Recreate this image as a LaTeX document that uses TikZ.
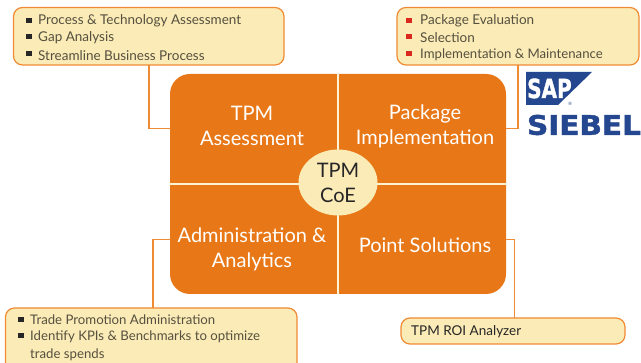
\documentclass[tikz,border=0pt]{standalone}
\usepackage{fontspec}
\usetikzlibrary{shapes.geometric}
\setmainfont{Lato}
\newfontfamily\logofont[FakeBold=1.5]{DejaVu Sans}
\newfontfamily\regfont{DejaVu Sans}
\definecolor{mainorange}{HTML}{E87817}
\definecolor{edgeorange}{HTML}{EF8B35}
\definecolor{cream}{HTML}{FBEBB7}
\definecolor{greytext}{HTML}{55503F}
\definecolor{logoblue}{HTML}{24478F}
\definecolor{bulletred}{HTML}{D9281E}
\tikzset{
  x=1pt,y=-1pt,
  infobox/.style={draw=edgeorange,line width=1.2pt,fill=cream,rounded corners=9pt},
  quad/.style={minimum width=167pt,minimum height=109pt,inner sep=0pt},
  bigtext/.style={text=white,font=\fontsize{20}{25}\selectfont,align=center,inner sep=0pt},
  item/.style={anchor=west,inner sep=0pt,text=greytext,font=\fontsize{13.5}{16}\selectfont},
  itemsmall/.style={item,font=\fontsize{13.2}{16}\selectfont},
  dot/.style={minimum size=5.2pt,inner sep=0pt,fill=#1},
  dot/.default=black!85,
  conn/.style={draw=edgeorange,line width=1.2pt},
}
\begin{document}
\begin{tikzpicture}
\useasboundingbox (0,0) rectangle (641,363);
\clip (0,0) rectangle (641,363);
\fill[white] (0,0) rectangle (641,363);

% core block
\fill[mainorange,rounded corners=20pt] (170,74) rectangle (506,294);
\node[quad] (qa) at (253.5,128.5) {};
\node[quad] (qb) at (422.5,128.5) {};
\node[quad] (qc) at (253.5,239.5) {};
\node[quad] (qd) at (422.5,239.5) {};
\draw[cream!60!white,line width=1.6pt] (338,74) -- (338,294);
\draw[cream!60!white,line width=1.6pt] (170,184) -- (506,184);
\node[bigtext] (ta) at (252,126) {TPM\\Assessment};
\node[bigtext] (tb) at (425,126.5) {Package\\Implementation};
\node[bigtext] (tc) at (252,249.5) {Administration \&\\Analytics};
\node[bigtext] (td) at (425,245.5) {Point Solutions};
\node[ellipse,fill=cream,minimum width=79pt,minimum height=66pt,inner sep=0pt,font=\fontsize{20}{25}\selectfont,text=black!85,align=center] (coe) at (338,182.5) {TPM\\CoE};

% info boxes
\draw[infobox] (13.5,7.5) rectangle (284,65);
\draw[infobox] (397,7.5) rectangle (639,65);
\draw[infobox] (5.5,308) rectangle (297,375);
\draw[infobox] (401,318) rectangle (625,344);

\coordinate (ca) at (149,65);
\coordinate (cb) at (518,65);
\coordinate (cc) at (153,308);
\coordinate (cd) at (514.5,318);
\draw[conn] (qa.west) -| (ca);
\draw[conn] (qb.east) -| (cb);
\draw[conn] (qc.west) -| (cc);
\draw[conn] (qd.east) -| (cd);

% top left
\node[dot] (d1) at (29,20.5) {};
\node[dot] (d2) at (29,36.5) {};
\node[dot] (d3) at (29,53.5) {};
\node[item] (i1) at (38,21) {Process \& Technology Assessment};
\node[item] (i2) at (38,38) {Gap Analysis};
\node[item] (i3) at (38,56) {Streamline Business Process};
% top right
\node[dot=bulletred] (d4) at (409,20.5) {};
\node[dot=bulletred] (d5) at (409,36.5) {};
\node[dot=bulletred] (d6) at (409,53.5) {};
\node[item] (i4) at (420,21) {Package Evaluation};
\node[item] (i5) at (420,38) {Selection};
\node[itemsmall] (i6) at (420,55) {Implementation \& Maintenance};
% bottom left
\node[dot] (d7) at (21,319.5) {};
\node[dot] (d8) at (21,335.5) {};
\node[itemsmall] (i7) at (30,320) {Trade Promotion Administration};
\node[itemsmall] (i8) at (30,337) {Identify KPIs \& Benchmarks to optimize};
\node[itemsmall] (i9) at (30,355) {trade spends};
% bottom right
\node[item,text=black!85] (i10) at (411,332) {TPM ROI Analyzer};

% logos
\fill[logoblue] (526,72) -- (592,72) -- (558,105) -- (526,105) -- cycle;
\node[inner sep=0pt,text=white,font=\logofont\bfseries\fontsize{25}{25}\selectfont,anchor=base west] (sap) at (527,98) {\scalebox{0.8}[1.05]{SAP}};
\node[inner sep=0pt,text=logoblue,font=\regfont\fontsize{4.5}{5}\selectfont] (reg) at (570,104) {®};
\node[inner sep=0pt,text=logoblue,font=\logofont\bfseries\fontsize{20}{20}\selectfont] (siebel) at (584,125) {\resizebox{114pt}{20pt}{SIEBEL}};
\end{tikzpicture}
\end{document}
